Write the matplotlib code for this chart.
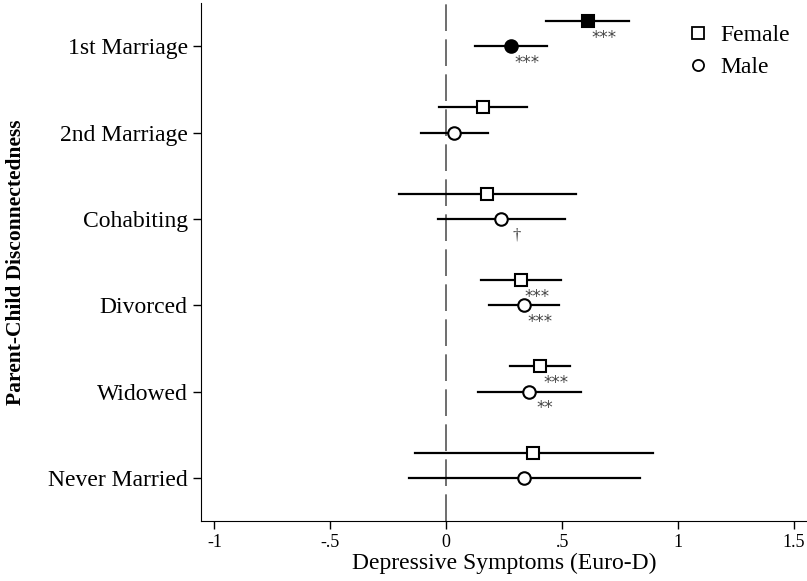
"""
Forest plot - depressive symptoms by marital status
"""

import matplotlib
matplotlib.use('Agg')
import matplotlib.pyplot as plt
import numpy as np

plt.rcParams['font.family'] = ['Liberation Serif', 'DejaVu Serif']

categories = ['1st Marriage', '2nd Marriage', 'Cohabiting', 'Divorced', 'Widowed', 'Never Married']

female_est = [0.61, 0.16, 0.175, 0.322, 0.403, 0.376]
female_lo = [0.43, -0.03, -0.205, 0.149, 0.275, -0.137]
female_hi = [0.79, 0.35, 0.558, 0.497, 0.532, 0.89]
female_sig = ['***', '', '', '***', '***', '']

male_est = [0.28, 0.034, 0.235, 0.335, 0.356, 0.337]
male_lo = [0.125, -0.11, -0.037, 0.183, 0.136, -0.159]
male_hi = [0.435, 0.18, 0.51, 0.485, 0.579, 0.836]
male_sig = ['***', '', '†', '***', '**', '']

filled = [True, False, False, False, False, False]

xticks = [-1, -0.5, 0, 0.5, 1, 1.5]
xticklabels = ['-1', '-.5', '0', '.5', '1', '1.5']

fig = plt.figure(figsize=(8.07, 5.81), dpi=100)
ax = fig.add_axes([201 / 807, 60 / 581, 606 / 807, 518 / 581])

n = len(categories)
ypos = np.arange(n, 0, -1)
off = 0.29

ax.axvline(0, color='#555555', lw=1.2, dashes=(16, 5), zorder=1)

for i in range(n):
    yf = ypos[i] + off
    ym = ypos[i]
    ax.plot([female_lo[i], female_hi[i]], [yf, yf], color='black', lw=1.6, zorder=2)
    ax.plot([male_lo[i], male_hi[i]], [ym, ym], color='black', lw=1.6, zorder=2)
    fc = 'black' if filled[i] else 'white'
    ax.plot(female_est[i], yf, marker='s', ms=9, mfc=fc, mec='black', mew=1.5, zorder=3)
    ax.plot(male_est[i], ym, marker='o', ms=9, mfc=fc, mec='black', mew=1.5, zorder=3)
    if female_sig[i]:
        ax.text(female_est[i] + 0.07, yf - 0.19, female_sig[i], ha='center', va='center',
                fontsize=12, color='#444444', family=['DejaVu Sans'])
    if male_sig[i]:
        ax.text(male_est[i] + 0.07, ym - 0.19, male_sig[i], ha='center', va='center',
                fontsize=12, color='#444444',
                family=['Liberation Serif'] if male_sig[i] == '†' else ['DejaVu Sans'])

# legend
ax.plot([], [], 's', ms=9, mfc='white', mec='black', mew=1.3, label='Female')
ax.plot([], [], 'o', ms=8, mfc='white', mec='black', mew=1.3, label='Male')
ax.legend(loc='upper right', frameon=False, fontsize=17, handletextpad=0.35,
          borderaxespad=0.3, labelspacing=0.45, handlelength=1.2,
          bbox_to_anchor=(1.0, 0.99))

ax.set_xlim(-1.058, 1.556)
ax.set_ylim(0.5, 6.5)
ax.set_yticks(ypos)
ax.set_yticklabels(categories, fontsize=17)
ax.set_xticks(xticks)
ax.set_xticklabels(xticklabels, fontsize=13)
ax.tick_params(direction='out', length=6, width=1)
ax.set_xlabel('Depressive Symptoms (Euro-D)', fontsize=17, labelpad=1)
ax.set_ylabel('Parent-Child Disconnectedness', fontsize=15.5, fontweight='bold', labelpad=16)

ax.spines['top'].set_visible(False)
ax.spines['right'].set_visible(False)

plt.savefig('out.png', dpi=100)
plt.close()
